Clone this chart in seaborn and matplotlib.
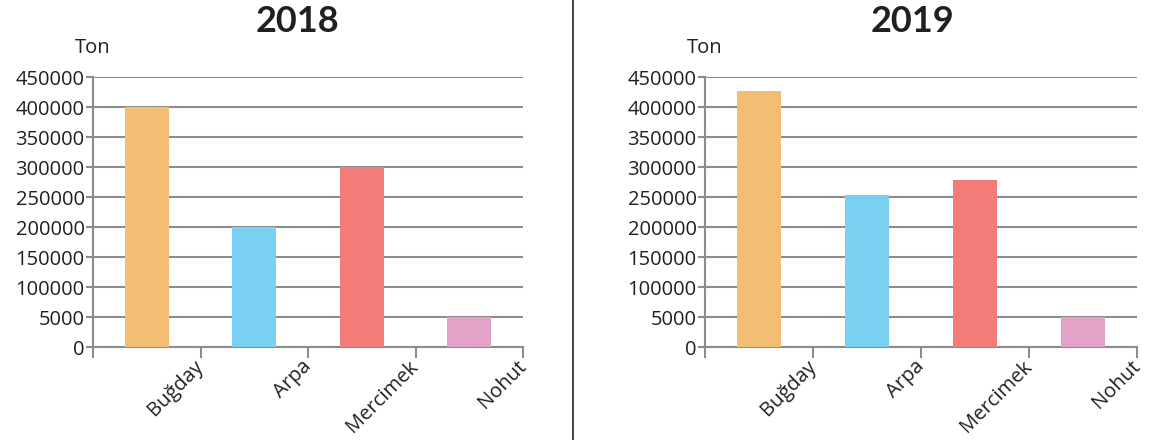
import matplotlib
matplotlib.use("Agg")
import matplotlib.pyplot as plt
import pandas as pd
import seaborn as sns

# veriler
urunler = ["Buğday", "Arpa", "Mercimek", "Nohut"]
uretim_2018 = [400000, 200000, 300000, 50000]
uretim_2019 = [427000, 253000, 278000, 50000]
renkler = ["#F3BD74", "#79D0F1", "#F27C79", "#E3A3C9"]
y_ticks = [0, 50000, 100000, 150000, 200000, 250000, 300000, 350000, 400000, 450000]
y_tick_labels = ["0", "5000", "100000", "150000", "200000", "250000",
                 "300000", "350000", "400000", "450000"]

sns.set_style("white")
plt.rcParams["font.family"] = ["Open Sans", "DejaVu Sans"]

GRI = "#8C8C8C"
YAZI = "#231F20"
FS = 14.5

fig = plt.figure(figsize=(11.52, 4.4), dpi=100)
ax1 = fig.add_axes([93 / 1152, 1 - 347 / 440, 430 / 1152, 270 / 440])
ax2 = fig.add_axes([705 / 1152, 1 - 347 / 440, 432 / 1152, 270 / 440])


def ciz(ax, degerler, baslik, baslik_x):
    df = pd.DataFrame({"urun": urunler, "ton": degerler})
    sns.barplot(data=df, x="urun", y="ton", hue="urun", order=urunler,
                palette=dict(zip(urunler, renkler)), width=0.41,
                saturation=1, legend=False, ax=ax, zorder=3,
                edgecolor="none", linewidth=0)
    ax.set_xlim(-0.5, len(urunler) - 0.5)
    ax.set_ylim(0, 450000)
    ax.set_yticks(y_ticks)
    ax.set_yticklabels(y_tick_labels, fontsize=FS, color=YAZI)
    ax.set_xticks([i - 0.5 for i in range(len(urunler) + 1)])
    ax.set_xticklabels([""] + urunler, fontsize=FS, color=YAZI,
                       rotation=45, ha="right", va="center",
                       rotation_mode="anchor")
    ax.yaxis.grid(True, color=GRI, linewidth=1.5, zorder=0)
    ax.set_axisbelow(True)
    for s in ["top", "right"]:
        ax.spines[s].set_visible(False)
    for s in ["left", "bottom"]:
        ax.spines[s].set_color(GRI)
        ax.spines[s].set_linewidth(1.5)
    ax.tick_params(axis="both", colors=GRI, width=1.5, length=6,
                   bottom=True, left=True)
    ax.tick_params(axis="x", labelcolor=YAZI, length=8, pad=4)
    ax.tick_params(axis="y", labelcolor=YAZI, length=5, pad=1)
    ax.set_xlabel("")
    ax.set_ylabel("")
    ax.text(0, 1.107, "Ton", transform=ax.transAxes, ha="center",
            va="center", fontsize=FS, color=YAZI)
    fig.text(baslik_x, 1 - 21 / 440, baslik, ha="center", va="center",
             fontsize=26, fontweight="bold", color=YAZI,
             family=["Lato", "DejaVu Sans"])


ciz(ax1, uretim_2018, "2018", 297 / 1152)
ciz(ax2, uretim_2019, "2019", 912 / 1152)

fig.add_artist(plt.Line2D([573 / 1152, 573 / 1152], [0, 1],
                          transform=fig.transFigure, color="#231F20",
                          linewidth=1.2))

fig.savefig("out.png", dpi=100)
plt.close(fig)
